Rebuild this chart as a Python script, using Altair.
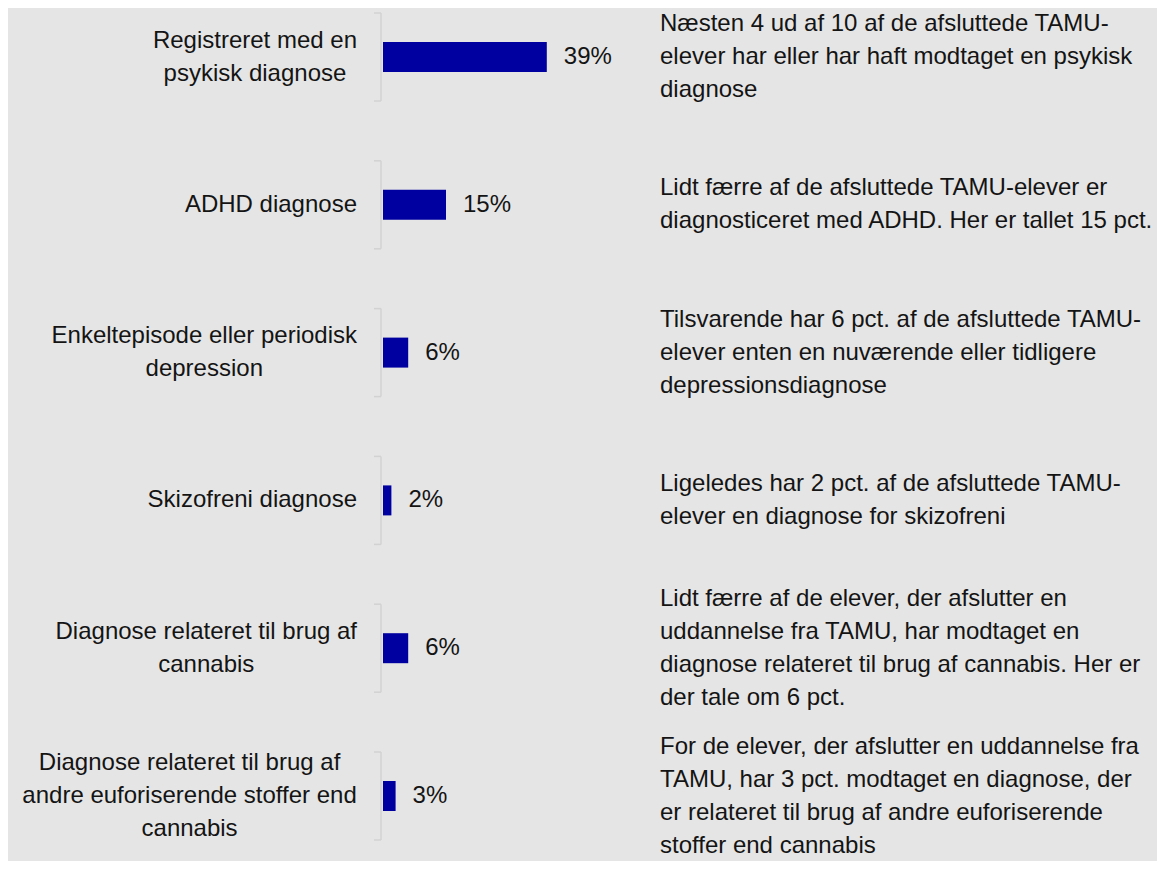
import altair as alt
import pandas as pd

# ---- data ----
labels = [
    "Registreret med en\npsykisk diagnose",
    "ADHD diagnose",
    "Enkeltepisode eller periodisk\ndepression",
    "Skizofreni diagnose",
    "Diagnose relateret til brug af\ncannabis",
    "Diagnose relateret til brug af\nandre euforiserende stoffer end\ncannabis",
]
values = [39, 15, 6, 2, 6, 3]
value_text = ["39%", "15%", "6%", "2%", "6%", "3%"]
descriptions = [
    "Næsten 4 ud af 10 af de afsluttede TAMU-\nelever har eller har haft modtaget en psykisk\ndiagnose",
    "Lidt færre af de afsluttede TAMU-elever er\ndiagnosticeret med ADHD. Her er tallet 15 pct.",
    "Tilsvarende har 6 pct. af de afsluttede TAMU-\nelever enten en nuværende eller tidligere\ndepressionsdiagnose",
    "Ligeledes har 2 pct. af de afsluttede TAMU-\nelever en diagnose for skizofreni",
    "Lidt færre af de elever, der afslutter en\nuddannelse fra TAMU, har modtaget en\ndiagnose relateret til brug af cannabis. Her er\nder tale om 6 pct.",
    "For de elever, der afslutter en uddannelse fra\nTAMU, har 3 pct. modtaget en diagnose, der\ner relateret til brug af andre euforiserende\nstoffer end cannabis",
]

# ---- styling ----
FONT = "Liberation Sans"
LABEL_SIZE = 24
DESC_SIZE = 24
LINE_H = 33
TEXT_COLOR = "#141414"
BAR_COLOR = "#0000a0"
BRACKET_COLOR = "#d2d2d2"
BG = "#e5e5e5"

Y_TOP, Y_BOTTOM = 49, 788
STEP = (Y_BOTTOM - Y_TOP) / (len(labels) - 1)

# Arial / Liberation Sans advance widths (per 1000 em) to centre label lines
_W = dict(zip("abcdefghijklmnopqrstuvwxyz ",
              [556, 556, 500, 556, 556, 278, 556, 556, 222, 222, 500, 222, 833,
               556, 556, 556, 556, 333, 500, 278, 556, 500, 722, 500, 500, 500, 278]))
_W.update({"A": 667, "D": 722, "E": 667, "H": 722, "R": 722, "S": 667})


def text_width(s, size):
    return sum(_W.get(c, 600) for c in s) * size / 1000.0


df = pd.DataFrame({
    "row": list(range(len(labels))),
    "label": labels,
    "value": values,
    "pct": value_text,
    "desc": descriptions,
})
df["label_w"] = [max(text_width(l, LABEL_SIZE) for l in s.split("\n")) for s in labels]
df["label_n"] = [len(s.split("\n")) for s in labels]
df["desc_n"] = [len(s.split("\n")) for s in descriptions]

yscale = alt.Scale(domain=[0, 5], range=[Y_TOP, Y_BOTTOM], nice=False, zero=False, padding=0)
yenc = alt.Y("row:Q", scale=yscale, axis=None)
xscale = alt.Scale(domain=[0, 100], range=[375, 795], nice=False, zero=False, padding=0)
pxscale = alt.Scale(domain=[0, 1149], range=[0, 1149], nice=False, zero=False)

base = alt.Chart(df)

bracket = base.mark_rule(color=BRACKET_COLOR, strokeWidth=1.5, xOffset=-2, yOffset=-44, y2Offset=44).encode(
    x=alt.XDatum(0, scale=xscale, axis=None), y=yenc, y2="row:Q"
)
tick_top = base.mark_rule(color=BRACKET_COLOR, strokeWidth=1.5, xOffset=-9, x2Offset=-2, yOffset=-44).encode(
    x=alt.XDatum(0, scale=xscale, axis=None), x2=alt.X2Datum(0), y=yenc
)
tick_bot = base.mark_rule(color=BRACKET_COLOR, strokeWidth=1.5, xOffset=-9, x2Offset=-2, yOffset=44).encode(
    x=alt.XDatum(0, scale=xscale, axis=None), x2=alt.X2Datum(0), y=yenc
)
bars = base.mark_bar(color=BAR_COLOR, orient="horizontal", height=30).encode(
    x=alt.X("value:Q", scale=xscale, axis=None), x2=alt.X2Datum(0), y=yenc
)
pct = base.mark_text(align="left", baseline="middle", dx=17, font=FONT, fontSize=LABEL_SIZE,
                     color=TEXT_COLOR).encode(
    x=alt.X("value:Q", scale=xscale, axis=None), y=yenc, text="pct:N"
)

label_text = base.transform_calculate(
    lx="349 - datum.label_w / 2",
    ly=f"datum.row - (datum.label_n - 1) * {LINE_H / 2 / STEP}",
).mark_text(
    align="center", baseline="middle", lineBreak="\n", lineHeight=LINE_H,
    font=FONT, fontSize=LABEL_SIZE, color=TEXT_COLOR
).encode(x=alt.X("lx:Q", scale=pxscale, axis=None), y=alt.Y("ly:Q", scale=yscale, axis=None),
         text="label:N")

desc_text = base.transform_calculate(
    dy_=f"datum.row - (datum.desc_n - 1) * {LINE_H / 2 / STEP}",
).mark_text(
    align="left", baseline="middle", lineBreak="\n", lineHeight=LINE_H,
    font=FONT, fontSize=DESC_SIZE, color=TEXT_COLOR
).encode(x=alt.value(652), y=alt.Y("dy_:Q", scale=yscale, axis=None), text="desc:N")

chart = alt.layer(bracket, tick_top, tick_bot, bars, pct, label_text, desc_text).resolve_scale(
    x="independent"
).properties(
    width=1149, height=853, autosize="none", padding=0, background=BG
).configure_view(stroke=None)

chart.save("out.html", embed_options={"renderer": "svg", "actions": False})
